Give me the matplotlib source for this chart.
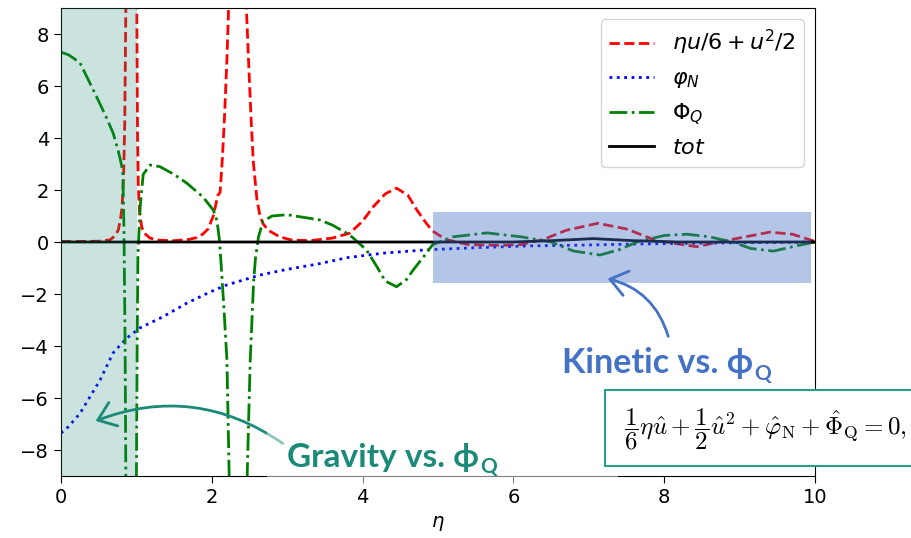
import matplotlib
matplotlib.use('Agg')
import matplotlib.pyplot as plt
from matplotlib.patches import Rectangle, FancyArrowPatch
from matplotlib.text import Annotation

W, H = 912, 538

# kinetic term  eta*u/6 + u^2/2  (values above 9 run off the top of the axes)
eta_kin = [0, 0.3, 0.5, 0.65, 0.72, 0.76, 0.79, 0.81, 0.83, 0.845, 0.86, 0.87,
           0.995, 1.005, 1.015, 1.025, 1.04, 1.07, 1.1, 1.18, 1.3, 1.5, 1.7, 1.8,
           1.88, 1.95, 2.02, 2.08, 2.11, 2.14, 2.17, 2.2, 2.22, 2.24,
           2.44, 2.46, 2.49, 2.52, 2.55, 2.6, 2.64, 2.68, 2.75, 2.9, 3.05, 3.3,
           3.6, 3.83, 4.0, 4.14, 4.3, 4.45, 4.6, 4.72, 4.85, 4.93, 5.1, 5.4, 5.8,
           6.1, 6.4, 6.7, 7.12, 7.5, 7.9, 8.43, 8.9, 9.4, 9.7, 10]
kin = [0.02, 0.02, 0.03, 0.08, 0.25, 0.46, 0.9, 1.35, 2.5, 4.5, 9.0, 20,
       20, 9.0, 4.0, 2.2, 1.2, 0.58, 0.35, 0.15, 0.07, 0.05, 0.1, 0.17,
       0.3, 0.5, 1.0, 1.8, 1.9, 3.2, 4.9, 7.0, 8.7, 20,
       20, 8.9, 6.8, 4.8, 3.1, 1.6, 1.0, 0.7, 0.45, 0.2, 0.08, 0.05,
       0.15, 0.34, 0.8, 1.35, 1.85, 2.07, 1.8, 1.23, 0.7, 0.42, 0.1, -0.1, -0.13,
       -0.1, 0.1, 0.45, 0.72, 0.5, 0.05, -0.18, 0.1, 0.38, 0.3, 0.02]

# Newtonian potential
eta_phiN = [0, 0.1, 0.25, 0.52, 0.69, 0.87, 1.05, 1.35, 1.67, 1.98, 2.2, 2.64,
            3.0, 3.4, 3.8, 4.27, 4.85, 5.5, 6.2, 6.9, 7.6, 8.3, 9.0, 10]
phiN = [-7.35, -7.1, -6.6, -5.3, -4.27, -3.7, -3.3, -2.88, -2.35, -1.92, -1.65, -1.27,
        -1.05, -0.85, -0.6, -0.43, -0.3, -0.22, -0.15, -0.12, -0.08, -0.05, -0.03, 0.0]

# quantum potential (values below -9 run off the bottom)
eta_phiQ = [0, 0.1, 0.25, 0.47, 0.6, 0.69, 0.76, 0.8, 0.82, 0.835, 0.85, 0.86, 0.87,
            0.99, 1.0, 1.01, 1.02, 1.05, 1.09, 1.18, 1.31, 1.5, 1.67, 1.88, 2.02,
            2.07, 2.1, 2.12, 2.16, 2.2, 2.23, 2.25,
            2.44, 2.47, 2.51, 2.555, 2.58, 2.62, 2.68, 2.8, 3.0, 3.17, 3.43, 3.6,
            3.83, 4.05, 4.19, 4.3, 4.45, 4.58, 4.67, 4.8, 4.93, 5.2, 5.65, 6.1,
            6.5, 6.8, 7.15, 7.4, 7.64, 8.0, 8.3, 8.6, 8.9, 9.15, 9.45, 9.75, 10]
phiQ = [7.3, 7.2, 6.9, 5.6, 4.8, 4.2, 3.5, 3.0, 2.6, 0.5, -4.0, -9.0, -40,
        -40, -9.0, -4.0, -0.5, 1.35, 2.6, 2.96, 2.9, 2.6, 2.26, 1.74, 1.23,
        0.8, 0.1, -0.7, -2.5, -4.5, -8.9, -40,
        -40, -8.9, -4.5, -1.5, -0.6, 0.2, 0.8, 1.0, 1.05, 0.97, 0.85, 0.65,
        0.27, -0.3, -0.95, -1.5, -1.72, -1.45, -1.08, -0.6, -0.1, 0.2, 0.35, 0.2,
        0.0, -0.35, -0.5, -0.3, 0.0, 0.25, 0.3, 0.2, 0.0, -0.25, -0.35, -0.15, 0.0]

# sum of all terms
eta_tot = [0, 6.0, 6.5, 7.06, 7.6, 8.2, 10]
tot = [0, 0, 0.05, 0.13, 0.05, 0, 0]

teal = '#1b8a78'
blue = '#4472c4'

fig = plt.figure(figsize=(W / 100, H / 100), dpi=100)
ax = fig.add_axes([61 / W, 1 - 476 / H, (815 - 61) / W, (476 - 8) / H])

ax.plot(eta_kin, kin, 'r--', lw=2, label=r'$\eta u/6+u^2/2$')
ax.plot(eta_phiN, phiN, 'b:', lw=2, label=r'$\varphi_N$')
ax.plot(eta_phiQ, phiQ, 'g-.', lw=2, label=r'$\Phi_Q$')
ax.plot(eta_tot, tot, 'k-', lw=2, label=r'$tot$')

ax.set_xlim(0, 10)
ax.set_ylim(-9, 9)
ax.set_xticks([0, 2, 4, 6, 8, 10])
ax.set_yticks([-8, -6, -4, -2, 0, 2, 4, 6, 8])
ax.tick_params(labelsize=14, length=5)
ax.set_xlabel(r'$\eta$', fontsize=14, labelpad=5)
ax.legend(loc='upper right', fontsize=16)

# highlighted regions drawn over the curves
ax.axvspan(0, 1.01, color=teal, alpha=0.23, lw=0, zorder=5)
ax.add_patch(Rectangle((4.93, -1.58), 5.02, 2.73, color=blue, alpha=0.4,
                       lw=0, zorder=5))


def fp(x, y):
    return (x / W, 1 - y / H)


# arrows
fig.add_artist(FancyArrowPatch(fp(285, 445), fp(93, 422), transform=fig.transFigure,
                               arrowstyle='->,head_length=0.6,head_width=0.45',
                               connectionstyle='arc3,rad=0.27', color=teal, lw=2,
                               mutation_scale=20, zorder=0.5))
fig.add_artist(FancyArrowPatch(fp(669, 339), fp(605, 278), transform=fig.transFigure,
                               arrowstyle='->,head_length=0.6,head_width=0.45',
                               connectionstyle='arc3,rad=0.3', color=blue, lw=2,
                               mutation_scale=20, zorder=0.5))

# semi transparent box behind the gravity label
fig.add_artist(Rectangle(fp(267, 484), 351 / W, 69 / H, transform=fig.transFigure,
                         facecolor='white', alpha=0.5, lw=0, zorder=1))

# equation box
fig.add_artist(Rectangle(fp(605, 466), 320 / W, 76 / H, transform=fig.transFigure,
                         facecolor='white', edgecolor='#2a9d8a', lw=1.5, zorder=2))
fig.text(*fp(624, 429),
         r'$\dfrac{1}{6}\eta\hat{u}+\dfrac{1}{2}\hat{u}^2+\hat{\varphi}_\mathrm{N}+\hat{\Phi}_\mathrm{Q}=0,$',
         math_fontfamily='cm', fontsize=18, va='center', ha='left', zorder=3)

fam = ['Lato', 'DejaVu Sans']
t1 = fig.text(*fp(287, 467), 'Gravity vs. ϕ', color=teal, va='baseline', zorder=3,
              family=fam, fontweight='bold', fontsize=24)
t2 = fig.text(*fp(562, 373), 'Kinetic vs. ϕ', color=blue, va='baseline', zorder=3,
              family=fam, fontweight='bold', fontsize=24.5)
for t, c in ((t1, teal), (t2, blue)):
    fig.add_artist(Annotation('Q', xy=(1, 0), xycoords=t, xytext=(1, -1),
                              textcoords='offset points', color=c, fontsize=15,
                              fontweight='bold', family=fam,
                              va='baseline', ha='left', zorder=3))

fig.savefig('out.png', dpi=100)
